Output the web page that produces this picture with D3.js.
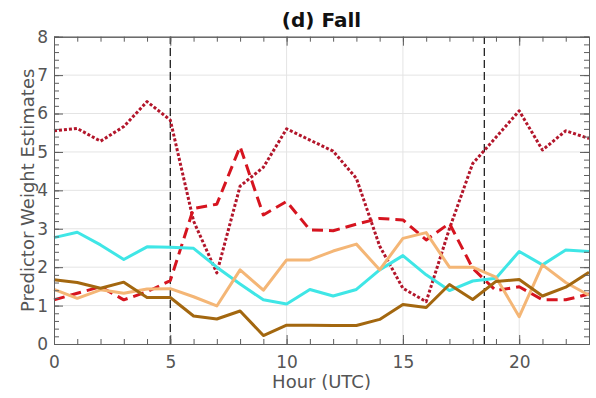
<!DOCTYPE html>
<html>
<head>
<meta charset="utf-8">
<script src="https://cdn.jsdelivr.net/npm/d3@7"></script>
<style>
  html, body { margin: 0; padding: 0; background: #fff; }
  svg { display: block; font-family: "DejaVu Sans", sans-serif; }
</style>
</head>
<body>
<svg id="chart" width="596" height="398"></svg>
<script>
// Hourly predictor weight estimates, fall season
const hours = d3.range(0, 24);

const dottedRed = [5.55, 5.61, 5.28, 5.66, 6.31, 5.83, 3.2, 1.85, 4.11, 4.6, 5.6, 5.31, 5.02, 4.31,
                   2.55, 1.45, 1.1, 3.0, 4.7, 5.38, 6.07, 5.05, 5.55, 5.35];
const dashedRed = [1.15, 1.32, 1.49, 1.15, 1.36, 1.65, 3.53, 3.64, 5.14, 3.36, 3.71, 2.97, 2.95, 3.12,
                   3.27, 3.23, 2.71, 3.14, 1.97, 1.39, 1.49, 1.15, 1.15, 1.3];
const cyanSeries = [2.77, 2.91, 2.58, 2.2, 2.53, 2.52, 2.49, 2.0, 1.56, 1.15, 1.04, 1.42, 1.25, 1.42,
                    1.93, 2.3, 1.8, 1.39, 1.64, 1.71, 2.41, 2.06, 2.45, 2.41];
const orangeSeries = [1.42, 1.19, 1.41, 1.32, 1.43, 1.44, 1.23, 0.99, 1.93, 1.4, 2.19, 2.19, 2.42, 2.6,
                      1.93, 2.75, 2.9, 2.0, 2.0, 1.74, 0.71, 2.06, 1.6, 1.27];
const brownSeries = [1.67, 1.6, 1.45, 1.61, 1.21, 1.21, 0.73, 0.65, 0.86, 0.22, 0.49, 0.49, 0.48, 0.48,
                     0.64, 1.03, 0.95, 1.55, 1.16, 1.63, 1.68, 1.25, 1.48, 1.87];

const dividers = [5, 18.5];
const xTickValues = [0, 5, 10, 15, 20];
const yTickValues = [0, 1, 2, 3, 4, 5, 6, 7, 8];
const titleText = "(d) Fall";
const xLabel = "Hour (UTC)";
const yLabel = "Predictor Weight Estimates";

const series = [
  { values: dottedRed,    color: "#b3162b", dash: "3,2" },
  { values: dashedRed,    color: "#d6141f", dash: "11,6" },
  { values: cyanSeries,   color: "#3fe6e6", dash: null },
  { values: orangeSeries, color: "#f4b676", dash: null },
  { values: brownSeries,  color: "#a3670f", dash: null }
];

const W = 596, H = 398;
const margin = { left: 54, right: 7, top: 36.7, bottom: 54 };
const svg = d3.select("#chart");

const x = d3.scaleLinear().domain([0, 23]).range([margin.left, W - margin.right]);
const y = d3.scaleLinear().domain([0, 8]).range([H - margin.bottom, margin.top]);

const axisColor = "#5e5e5e";
const textColor = "#555";

// grid
const grid = svg.append("g");
grid.selectAll("line.gx").data(xTickValues.filter(d => d > 0)).join("line")
  .attr("x1", d => x(d)).attr("x2", d => x(d))
  .attr("y1", y(0)).attr("y2", y(8))
  .attr("stroke", "#e4e4e4").attr("stroke-width", 1);
grid.selectAll("line.gy").data(yTickValues.filter(d => d > 0 && d < 8)).join("line")
  .attr("x1", x(0)).attr("x2", x(23))
  .attr("y1", d => y(d)).attr("y2", d => y(d))
  .attr("stroke", "#e4e4e4").attr("stroke-width", 1);

// season divider lines
svg.append("g").selectAll("line").data(dividers).join("line")
  .attr("x1", d => x(d)).attr("x2", d => x(d))
  .attr("y1", y(0)).attr("y2", y(8))
  .attr("stroke", "#222").attr("stroke-width", 1.3)
  .attr("stroke-dasharray", "8,4");

// series lines
const line = d3.line().x((d, i) => x(hours[i])).y(d => y(d));
svg.append("g").selectAll("path").data(series).join("path")
  .attr("d", d => line(d.values))
  .attr("fill", "none")
  .attr("stroke", d => d.color)
  .attr("stroke-width", 3)
  .attr("stroke-linejoin", "round")
  .attr("stroke-dasharray", d => d.dash);

// axes with inward ticks
function styleAxis(g) {
  g.selectAll(".domain").attr("stroke", axisColor).attr("stroke-width", 1);
  g.selectAll(".tick line").attr("stroke", axisColor).attr("stroke-width", 1);
  g.selectAll(".tick text").attr("fill", textColor).style("font-size", "17px")
    .style("font-family", "DejaVu Sans, sans-serif");
}

const xMinor = d3.range(0, 24);
const yMinor = d3.range(0, 8.01, 0.2).map(v => +v.toFixed(1));

// bottom
svg.append("g").attr("transform", `translate(0,${y(0)})`)
  .call(d3.axisBottom(x).tickValues(xMinor).tickSize(-5).tickFormat(""))
  .call(styleAxis);
svg.append("g").attr("transform", `translate(0,${y(0)})`)
  .call(d3.axisBottom(x).tickValues(xTickValues).tickSizeInner(-9).tickSizeOuter(0).tickPadding(12))
  .call(styleAxis);
// top
svg.append("g").attr("transform", `translate(0,${y(8)})`)
  .call(d3.axisTop(x).tickValues(xMinor).tickSize(-5).tickFormat(""))
  .call(styleAxis);
svg.append("g").attr("transform", `translate(0,${y(8)})`)
  .call(d3.axisTop(x).tickValues(xTickValues).tickSizeInner(-9).tickSizeOuter(0).tickFormat(""))
  .call(styleAxis);
// left
svg.append("g").attr("transform", `translate(${x(0)},0)`)
  .call(d3.axisLeft(y).tickValues(yMinor).tickSize(-5).tickFormat(""))
  .call(styleAxis);
svg.append("g").attr("transform", `translate(${x(0)},0)`)
  .call(d3.axisLeft(y).tickValues(yTickValues).tickSizeInner(-9).tickSizeOuter(0).tickPadding(6)
        .tickFormat(d3.format("d")))
  .call(styleAxis)
  .call(g => g.selectAll(".tick text").attr("x", -6));
// right
svg.append("g").attr("transform", `translate(${x(23)},0)`)
  .call(d3.axisRight(y).tickValues(yMinor).tickSize(-5).tickFormat(""))
  .call(styleAxis);
svg.append("g").attr("transform", `translate(${x(23)},0)`)
  .call(d3.axisRight(y).tickValues(yTickValues).tickSizeInner(-9).tickSizeOuter(0).tickFormat(""))
  .call(styleAxis);

// labels
svg.append("text")
  .attr("x", (x(0) + x(23)) / 2).attr("y", 27)
  .attr("text-anchor", "middle")
  .attr("font-size", 20).attr("font-weight", "bold").attr("fill", "#111")
  .text(titleText);

svg.append("text")
  .attr("x", (x(0) + x(23)) / 2).attr("y", 388)
  .attr("text-anchor", "middle")
  .attr("font-size", 18).attr("fill", textColor)
  .text(xLabel);

svg.append("text")
  .attr("transform", `translate(34,${(y(0) + y(8)) / 2}) rotate(-90)`)
  .attr("text-anchor", "middle")
  .attr("font-size", 18).attr("fill", textColor)
  .text(yLabel);
</script>
</body>
</html>
